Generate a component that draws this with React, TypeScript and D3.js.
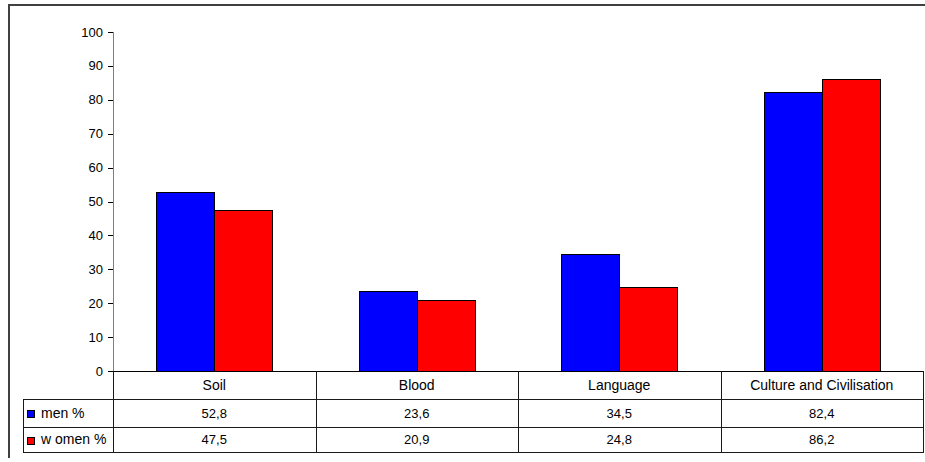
import React, {useEffect, useRef} from 'react';
import * as d3 from 'd3';

const categories = ['Soil', 'Blood', 'Language', 'Culture and Civilisation'];
const seriesNames = ['men %', 'w omen %'];
const menValues = [52.8, 23.6, 34.5, 82.4];
const womenValues = [47.5, 20.9, 24.8, 86.2];
const seriesColors = ['#0000ff', '#ff0000'];
const yTicks = [0, 10, 20, 30, 40, 50, 60, 70, 80, 90, 100];

const W = 925;
const H = 462;
const FONT = '"Liberation Sans", Arial, sans-serif';

const fmt = (v: number) => v.toFixed(1).replace('.', ',');

const App: React.FC = () => {
  const ref = useRef<SVGSVGElement>(null);

  useEffect(() => {
    const svg = d3.select(ref.current!);
    svg.selectAll('*').remove();

    const left = 113, right = 923, top = 32, zero = 371;
    const legendLeft = 23;
    const rowLines = [371, 399, 427, 452];

    const x = d3.scaleBand<string>().domain(categories).range([left, right]);
    const xs = d3.scaleBand<string>().domain(seriesNames).range([0, x.bandwidth()]).paddingOuter(0.745);
    const y = d3.scaleLinear().domain([0, 100]).range([zero, top]);
    const series = [menValues, womenValues];

    // outer frame
    svg.append('line').attr('x1', 9).attr('x2', 9).attr('y1', 4).attr('y2', 458)
      .attr('stroke', '#404040').attr('stroke-width', 2);
    svg.append('line').attr('x1', 9).attr('x2', W).attr('y1', 5).attr('y2', 5)
      .attr('stroke', '#404040').attr('stroke-width', 2);

    // y axis
    const yAxis = svg.append('g').attr('transform', `translate(${left},0)`);
    yAxis.append('line').attr('x1', 0.5).attr('x2', 0.5).attr('y1', top).attr('y2', zero)
      .attr('stroke', '#808080');
    yAxis.selectAll('line.tick').data(yTicks).join('line').attr('class', 'tick')
      .attr('x1', -5).attr('x2', 0).attr('y1', d => Math.round(y(d)) + 0.5).attr('y2', d => Math.round(y(d)) + 0.5)
      .attr('stroke', '#000');
    yAxis.selectAll('text').data(yTicks).join('text')
      .attr('x', -10).attr('y', d => y(d)).attr('dy', '0.35em')
      .attr('text-anchor', 'end').attr('font-family', FONT).attr('font-size', 13)
      .text(d => d);

    // bars
    series.forEach((vals, si) => {
      svg.append('g').selectAll('rect').data(vals).join('rect')
        .attr('x', (_, i) => Math.round(x(categories[i])! + xs(seriesNames[si])!) + 0.5)
        .attr('y', d => Math.round(y(d)) + 0.5)
        .attr('width', Math.round(xs.bandwidth()))
        .attr('height', d => Math.round(zero - y(d)))
        .attr('fill', seriesColors[si])
        .attr('stroke', '#000').attr('stroke-width', 1);
    });

    // data table
    const grid = svg.append('g').attr('stroke', '#1a1a1a').attr('stroke-width', 1);
    grid.append('line').attr('x1', left).attr('x2', right).attr('y1', zero + 0.5).attr('y2', zero + 0.5).attr('stroke', '#000');
    rowLines.slice(1).forEach(ry => {
      grid.append('line').attr('x1', legendLeft).attr('x2', right).attr('y1', ry + 0.5).attr('y2', ry + 0.5);
    });
    grid.append('line').attr('x1', legendLeft + 0.5).attr('x2', legendLeft + 0.5).attr('y1', rowLines[1]).attr('y2', rowLines[3] + 1);
    [left, ...categories.slice(1).map(c => x(c)!), right].forEach(cx => {
      grid.append('line').attr('x1', Math.round(cx) + 0.5).attr('x2', Math.round(cx) + 0.5)
        .attr('y1', zero).attr('y2', rowLines[3] + 1);
    });

    svg.append('g').selectAll('text').data(categories).join('text')
      .attr('x', d => x(d)! + x.bandwidth() / 2).attr('y', (rowLines[0] + rowLines[1]) / 2).attr('dy', '0.35em')
      .attr('text-anchor', 'middle').attr('font-family', FONT).attr('font-size', 14).text(d => d);

    series.forEach((vals, si) => {
      const cy = (rowLines[si + 1] + rowLines[si + 2]) / 2;
      svg.append('g').selectAll('text').data(vals).join('text')
        .attr('x', (_, i) => x(categories[i])! + x.bandwidth() / 2).attr('y', cy).attr('dy', '0.35em')
        .attr('text-anchor', 'middle').attr('font-family', FONT).attr('font-size', 13).text(d => fmt(d));
      svg.append('rect').attr('x', 27.5).attr('y', Math.round(cy - 3) + 0.5).attr('width', 7).attr('height', 7)
        .attr('fill', seriesColors[si]).attr('stroke', '#000');
      svg.append('text').attr('x', 41).attr('y', cy).attr('dy', '0.35em')
        .attr('font-family', FONT).attr('font-size', 14).text(seriesNames[si]);
    });
  }, []);

  return (
    <svg ref={ref} width={W} height={H}
         style={{position: 'absolute', left: 0, top: 0, background: '#fff'}}/>
  );
};

export default App;
